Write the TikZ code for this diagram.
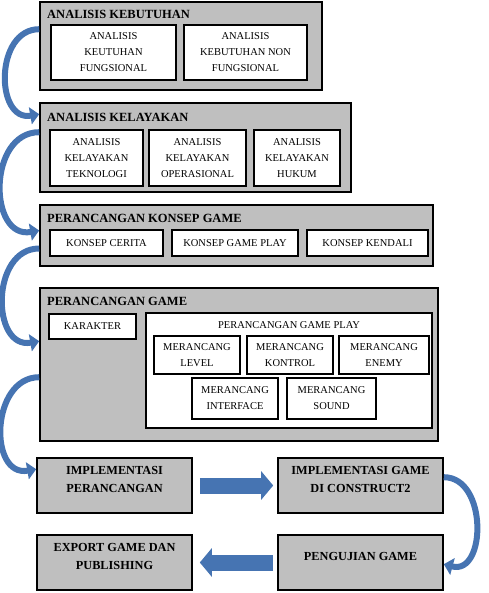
\documentclass[tikz,border=0pt]{standalone}
\usepackage{fontspec}
\setmainfont{Liberation Serif}
\usetikzlibrary{arrows.meta}
\definecolor{boxgray}{RGB}{191,191,191}
\definecolor{arrowblue}{RGB}{70,116,178}

\begin{document}
\begin{tikzpicture}[x=1pt, y=-1pt,
    outer/.style={draw, line width=1.6pt, fill=boxgray, inner sep=0pt},
    inner/.style={draw, line width=1.3pt, fill=white, inner sep=0pt, align=center, font=\fontsize{10.5}{16}\selectfont},
    title/.style={anchor=west, inner sep=0pt, font=\bfseries\fontsize{12.5}{15}\selectfont},
    flow/.style={outer, align=center, minimum height=55pt, text depth=12pt, font=\bfseries\fontsize{12.3}{18}\selectfont},
    curve/.style={arrowblue, line width=6pt, -{Triangle[length=9pt,width=17pt]}},
    block/.style={arrowblue, line width=16pt, -{Triangle[length=12pt,width=28pt]}}]

    \useasboundingbox (0,0) rectangle (488,593);

    \node[outer, minimum width=282pt, minimum height=88pt] (kebutuhan) at (181,46) {};
    \node[title] (kebutuhanT) at (47,14) {ANALISIS KEBUTUHAN};
    \node[inner, minimum width=125pt, minimum height=55pt] (fungsional) at (113.5,52.5) {ANALISIS\\KEUTUHAN\\FUNGSIONAL};
    \node[inner, minimum width=123pt, minimum height=55pt] (nonfungsional) at (245.5,52.5) {ANALISIS\\KEBUTUHAN NON\\FUNGSIONAL};

    \node[outer, minimum width=311pt, minimum height=89pt] (kelayakan) at (195.5,147.5) {};
    \node[title] (kelayakanT) at (47,117) {ANALISIS KELAYAKAN};
    \node[inner, minimum width=93pt, minimum height=56pt] (teknologi) at (96.5,158) {ANALISIS\\KELAYAKAN\\TEKNOLOGI};
    \node[inner, minimum width=97pt, minimum height=56pt] (operasional) at (197.5,158) {ANALISIS\\KELAYAKAN\\OPERASIONAL};
    \node[inner, minimum width=86pt, minimum height=56pt] (hukum) at (297,158) {ANALISIS\\KELAYAKAN\\HUKUM};

    \node[outer, minimum width=393pt, minimum height=61pt] (konsep) at (236.5,235.5) {};
    \node[title] (konsepT) at (47,218) {PERANCANGAN KONSEP GAME};
    \node[inner, minimum width=113pt, minimum height=26pt] (cerita) at (106.5,243) {KONSEP CERITA};
    \node[inner, minimum width=126pt, minimum height=26pt] (gameplay) at (235,243) {KONSEP GAME PLAY};
    \node[inner, minimum width=121pt, minimum height=26pt] (kendali) at (367.5,243) {KONSEP KENDALI};

    \node[outer, minimum width=398pt, minimum height=153pt] (perancangan) at (239,364.5) {};
    \node[title] (perancanganT) at (47,301) {PERANCANGAN GAME};
    \node[inner, minimum width=87pt, minimum height=25pt] (karakter) at (92.5,326.5) {KARAKTER};
    \node[inner, minimum width=286pt, minimum height=115pt] (playbox) at (289,370.5) {};
    \node[font=\fontsize{10.5}{16}\selectfont, inner sep=0pt] (playT) at (289,325) {PERANCANGAN GAME PLAY};
    \node[inner, minimum width=86pt, minimum height=38pt] (level) at (197,355) {MERANCANG\\LEVEL};
    \node[inner, minimum width=86pt, minimum height=38pt] (kontrol) at (290,355) {MERANCANG\\KONTROL};
    \node[inner, minimum width=90pt, minimum height=38pt] (enemy) at (384,355) {MERANCANG\\ENEMY};
    \node[inner, minimum width=86pt, minimum height=41pt] (interface) at (235,398.5) {MERANCANG\\INTERFACE};
    \node[inner, minimum width=89pt, minimum height=41pt] (sound) at (331.5,398.5) {MERANCANG\\SOUND};

    \node[flow, minimum width=155pt] (implementasi) at (114.5,485.5) {IMPLEMENTASI\\PERANCANGAN};
    \node[flow, minimum width=165pt] (construct) at (360.5,485.5) {IMPLEMENTASI GAME\\DI CONSTRUCT2};
    \node[flow, minimum width=165pt] (pengujian) at (360.5,562.5) {PENGUJIAN GAME};
    \node[flow, minimum width=155pt] (export) at (114.5,562.5) {EXPORT GAME DAN\\PUBLISHING};

    \draw[curve] ([yshift=-28pt]kebutuhan.north west) to[out=180, in=190, looseness=1.35] ([yshift=-12pt]kelayakan.north west);
    \draw[curve] ([yshift=-30pt]kelayakan.north west) to[out=180, in=190, looseness=1.35] ([yshift=5pt]konsep.west);
    \draw[curve] ([yshift=-13pt]konsep.west) to[out=180, in=190, looseness=1.35] ([yshift=-54pt]perancangan.north west);
    \draw[curve] ([yshift=-90pt]perancangan.north west) to[out=180, in=190, looseness=1.35] ([yshift=-12pt]implementasi.north west);
    \draw[block, shorten <=7pt, shorten >=4pt] (implementasi) -- (construct);
    \draw[curve] ([yshift=-20pt]construct.north east) to[out=0, in=-15, looseness=1.3] ([yshift=-30pt]pengujian.north east);
    \draw[block, shorten <=4pt, shorten >=7pt] (pengujian) -- (export);
\end{tikzpicture}
\end{document}
